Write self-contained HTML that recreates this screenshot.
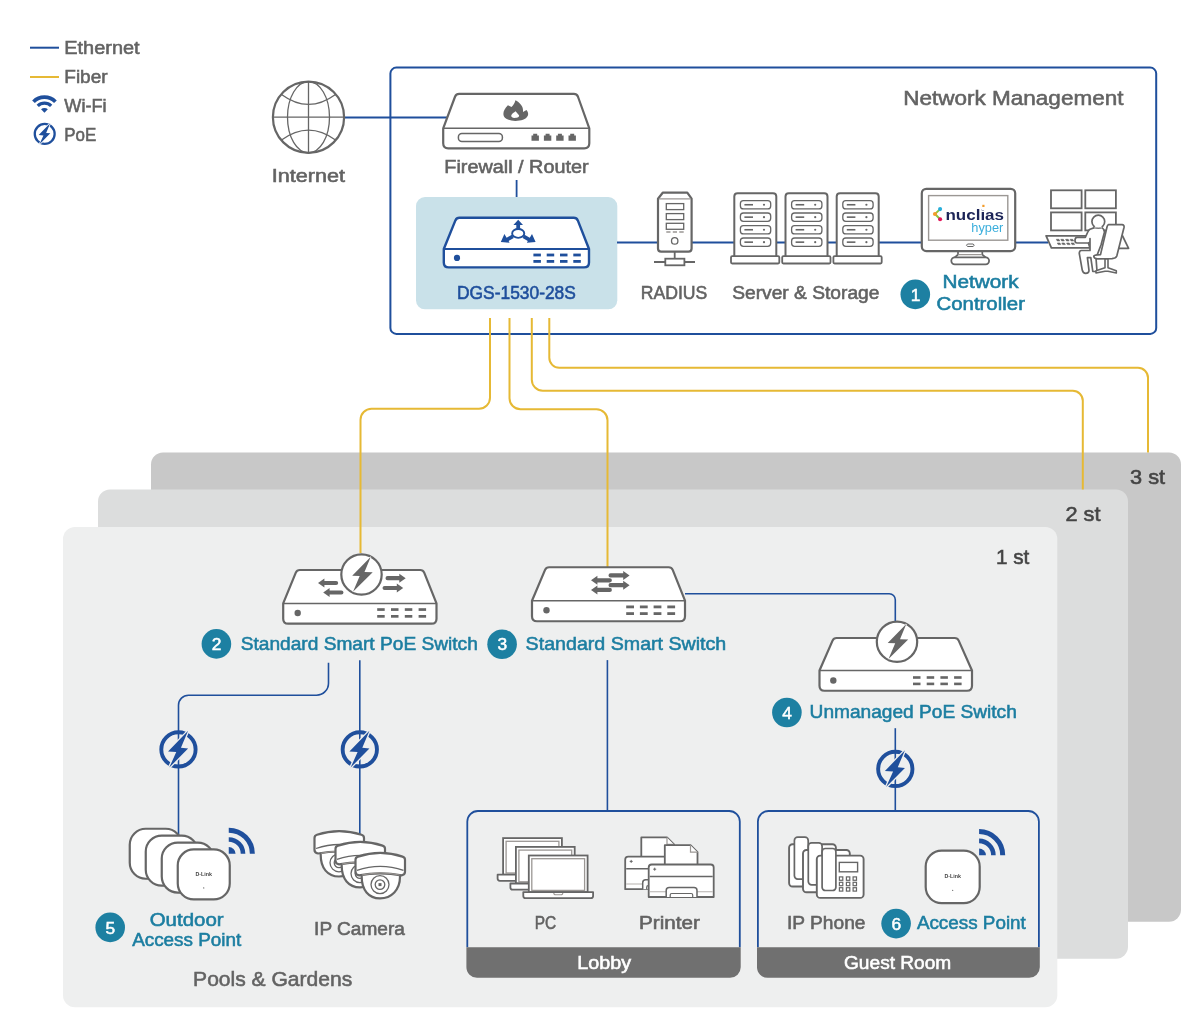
<!DOCTYPE html>
<html><head><meta charset="utf-8"><style>
html,body{margin:0;padding:0;background:#fff;width:1200px;height:1034px;overflow:hidden}
svg{display:block;font-family:"Liberation Sans", sans-serif;will-change:transform}
</style></head><body>
<svg width="1200" height="1034" viewBox="0 0 1200 1034">
<rect x="151" y="452.5" width="1030" height="469.2" rx="12" fill="#c8c8c8"/>
<rect x="98" y="489.5" width="1030" height="469.2" rx="12" fill="#dcdddd"/>
<rect x="63" y="527" width="994.3" height="480.3" rx="12" fill="#eeefef"/>
<rect x="390.4" y="67.6" width="765.8" height="266.3" rx="6" fill="none" stroke="#1f4f9c" stroke-width="2"/>
<rect x="416" y="197.1" width="201.3" height="112.2" rx="9" fill="#c9e1e9"/>
<path d="M344.5,117.5 H447" fill="none" stroke="#1f4f9c" stroke-width="1.8"/>
<path d="M516.6,180 V197" fill="none" stroke="#1f4f9c" stroke-width="1.8"/>
<path d="M617,242.5 H1048" fill="none" stroke="#1f4f9c" stroke-width="1.8"/>
<path d="M490,318 V397.8 a11,11 0 0 1 -11,11 H371.5 a11,11 0 0 0 -11,11 V553" fill="none" stroke="#e6b935" stroke-width="2"/>
<path d="M509.5,318 V398.2 a11,11 0 0 0 11,11 H596.5 a11,11 0 0 1 11,11 V567" fill="none" stroke="#e6b935" stroke-width="2"/>
<path d="M531.8,318 V379.8 a11,11 0 0 0 11,11 H1072.8 a10,10 0 0 1 10,10 V489.5" fill="none" stroke="#e6b935" stroke-width="2"/>
<path d="M549.3,318 V357.8 a10,10 0 0 0 10,10 H1138 a10,10 0 0 1 10,10 V452.5" fill="none" stroke="#e6b935" stroke-width="2"/>
<path d="M685,593.8 H889.3 a6,6 0 0 1 6,6 V621" fill="none" stroke="#1f4f9c" stroke-width="1.6"/>
<path d="M328.5,662.7 V683.2 a12,12 0 0 1 -12,12 H188.5 a10,10 0 0 0 -10,10 V840" fill="none" stroke="#1f4f9c" stroke-width="1.6"/>
<path d="M359.8,660.2 V845" fill="none" stroke="#1f4f9c" stroke-width="1.6"/>
<path d="M607.4,660.1 V811" fill="none" stroke="#1f4f9c" stroke-width="1.6"/>
<path d="M895.3,728.2 V811" fill="none" stroke="#1f4f9c" stroke-width="1.6"/>
<path d="M467.3,947.3 V821.6 a10.6,10.6 0 0 1 10.6,-10.6 H729.2 a10.6,10.6 0 0 1 10.6,10.6 V947.3" fill="none" stroke="#1f4f9c" stroke-width="1.8"/>
<path d="M466.4,947.3 H740.7 V967.2 a10.6,10.6 0 0 1 -10.6,10.6 H477 a10.6,10.6 0 0 1 -10.6,-10.6 Z" fill="#707070"/>
<path d="M757.9,947.3 V821.6 a10.6,10.6 0 0 1 10.6,-10.6 H1028.3 a10.6,10.6 0 0 1 10.6,10.6 V947.3" fill="none" stroke="#1f4f9c" stroke-width="1.8"/>
<path d="M757,947.3 H1039.8 V967.2 a10.6,10.6 0 0 1 -10.6,10.6 H767.6 a10.6,10.6 0 0 1 -10.6,-10.6 Z" fill="#707070"/>
<path d="M30,47.7 H59" fill="none" stroke="#1f4f9c" stroke-width="2"/>
<path d="M30,77 H59" fill="none" stroke="#e6b935" stroke-width="2"/>
<text x="64.3" y="54.2" font-size="17.6" fill="#636363" stroke="#636363" stroke-width="0.55" font-weight="normal" textLength="75.3" lengthAdjust="spacingAndGlyphs" text-anchor="start">Ethernet</text>
<text x="64.3" y="83.0" font-size="17.6" fill="#636363" stroke="#636363" stroke-width="0.55" font-weight="normal" textLength="43.3" lengthAdjust="spacingAndGlyphs" text-anchor="start">Fiber</text>
<text x="64.3" y="111.8" font-size="17.6" fill="#636363" stroke="#636363" stroke-width="0.55" font-weight="normal" textLength="42.3" lengthAdjust="spacingAndGlyphs" text-anchor="start">Wi-Fi</text>
<text x="64.3" y="140.8" font-size="17.6" fill="#636363" stroke="#636363" stroke-width="0.55" font-weight="normal" textLength="32.0" lengthAdjust="spacingAndGlyphs" text-anchor="start">PoE</text>
<text x="271.8" y="182" font-size="17.6" fill="#636363" stroke="#636363" stroke-width="0.55" font-weight="normal" textLength="73.3" lengthAdjust="spacingAndGlyphs" text-anchor="start">Internet</text>
<text x="444.3" y="172.6" font-size="17.6" fill="#636363" stroke="#636363" stroke-width="0.55" font-weight="normal" textLength="144.3" lengthAdjust="spacingAndGlyphs" text-anchor="start">Firewall / Router</text>
<text x="457.0" y="298.8" font-size="17.6" fill="#1f4f9c" stroke="#1f4f9c" stroke-width="0.55" font-weight="normal" textLength="118.9" lengthAdjust="spacingAndGlyphs" text-anchor="start">DGS-1530-28S</text>
<text x="640.7" y="298.7" font-size="17.6" fill="#636363" stroke="#636363" stroke-width="0.55" font-weight="normal" textLength="66.6" lengthAdjust="spacingAndGlyphs" text-anchor="start">RADIUS</text>
<text x="732.2" y="299" font-size="17.6" fill="#636363" stroke="#636363" stroke-width="0.55" font-weight="normal" textLength="147.3" lengthAdjust="spacingAndGlyphs" text-anchor="start">Server &amp; Storage</text>
<text x="942.5" y="288.3" font-size="17.6" fill="#1c7ea1" stroke="#1c7ea1" stroke-width="0.55" font-weight="normal" textLength="76.1" lengthAdjust="spacingAndGlyphs" text-anchor="start">Network</text>
<text x="936.4" y="309.5" font-size="17.6" fill="#1c7ea1" stroke="#1c7ea1" stroke-width="0.55" font-weight="normal" textLength="88.6" lengthAdjust="spacingAndGlyphs" text-anchor="start">Controller</text>
<text x="903.2" y="105" font-size="20.2" fill="#636363" stroke="#636363" stroke-width="0.55" font-weight="normal" textLength="220.3" lengthAdjust="spacingAndGlyphs" text-anchor="start">Network Management</text>
<text x="1130.0" y="484" font-size="20.2" fill="#444444" stroke="#444444" stroke-width="0.55" font-weight="normal" textLength="35.1" lengthAdjust="spacingAndGlyphs" text-anchor="start">3 st</text>
<text x="1065.4" y="521.2" font-size="20.2" fill="#444444" stroke="#444444" stroke-width="0.55" font-weight="normal" textLength="35.1" lengthAdjust="spacingAndGlyphs" text-anchor="start">2 st</text>
<text x="995.9" y="563.9" font-size="20.2" fill="#444444" stroke="#444444" stroke-width="0.55" font-weight="normal" textLength="33.4" lengthAdjust="spacingAndGlyphs" text-anchor="start">1 st</text>
<text x="240.75" y="650" font-size="18.2" fill="#1c7ea1" stroke="#1c7ea1" stroke-width="0.55" font-weight="normal" textLength="237.05" lengthAdjust="spacingAndGlyphs" text-anchor="start">Standard Smart PoE Switch</text>
<text x="525.6" y="649.5" font-size="18.2" fill="#1c7ea1" stroke="#1c7ea1" stroke-width="0.55" font-weight="normal" textLength="200.7" lengthAdjust="spacingAndGlyphs" text-anchor="start">Standard Smart Switch</text>
<text x="809.6" y="718.1" font-size="18.2" fill="#1c7ea1" stroke="#1c7ea1" stroke-width="0.55" font-weight="normal" textLength="207.2" lengthAdjust="spacingAndGlyphs" text-anchor="start">Unmanaged PoE Switch</text>
<text x="149.7" y="925.5" font-size="17.6" fill="#1c7ea1" stroke="#1c7ea1" stroke-width="0.55" font-weight="normal" textLength="73.9" lengthAdjust="spacingAndGlyphs" text-anchor="start">Outdoor</text>
<text x="132.2" y="945.9" font-size="17.6" fill="#1c7ea1" stroke="#1c7ea1" stroke-width="0.55" font-weight="normal" textLength="108.95" lengthAdjust="spacingAndGlyphs" text-anchor="start">Access Point</text>
<text x="314.1" y="935.4" font-size="17.6" fill="#636363" stroke="#636363" stroke-width="0.55" font-weight="normal" textLength="90.8" lengthAdjust="spacingAndGlyphs" text-anchor="start">IP Camera</text>
<text x="193.1" y="985.6" font-size="20.2" fill="#636363" stroke="#636363" stroke-width="0.55" font-weight="normal" textLength="159.1" lengthAdjust="spacingAndGlyphs" text-anchor="start">Pools &amp; Gardens</text>
<text x="534.8" y="929.1" font-size="17.6" fill="#636363" stroke="#636363" stroke-width="0.55" font-weight="normal" textLength="21.5" lengthAdjust="spacingAndGlyphs" text-anchor="start">PC</text>
<text x="639.0" y="928.9" font-size="17.6" fill="#636363" stroke="#636363" stroke-width="0.55" font-weight="normal" textLength="60.9" lengthAdjust="spacingAndGlyphs" text-anchor="start">Printer</text>
<text x="787.0" y="928.6" font-size="17.6" fill="#636363" stroke="#636363" stroke-width="0.55" font-weight="normal" textLength="78.5" lengthAdjust="spacingAndGlyphs" text-anchor="start">IP Phone</text>
<text x="916.9" y="928.9" font-size="17.6" fill="#1c7ea1" stroke="#1c7ea1" stroke-width="0.55" font-weight="normal" textLength="108.9" lengthAdjust="spacingAndGlyphs" text-anchor="start">Access Point</text>
<text x="577.3" y="969.3" font-size="17.6" fill="#ffffff" stroke="#ffffff" stroke-width="0.55" font-weight="normal" textLength="53.7" lengthAdjust="spacingAndGlyphs" text-anchor="start">Lobby</text>
<text x="844.0" y="969.3" font-size="17.6" fill="#ffffff" stroke="#ffffff" stroke-width="0.55" font-weight="normal" textLength="107.3" lengthAdjust="spacingAndGlyphs" text-anchor="start">Guest Room</text>
<circle cx="915.3" cy="294.4" r="14.8" fill="#1d80a2"/>
<text x="915.5" y="300.5" font-size="17.4" fill="#fff" stroke="#fff" stroke-width="0.5" text-anchor="middle">1</text>
<circle cx="216.4" cy="643.9" r="14.8" fill="#1d80a2"/>
<text x="216.6" y="650.0" font-size="17.4" fill="#fff" stroke="#fff" stroke-width="0.5" text-anchor="middle">2</text>
<circle cx="502.1" cy="644.2" r="14.8" fill="#1d80a2"/>
<text x="502.3" y="650.3000000000001" font-size="17.4" fill="#fff" stroke="#fff" stroke-width="0.5" text-anchor="middle">3</text>
<circle cx="786.9" cy="712.5" r="14.8" fill="#1d80a2"/>
<text x="787.1" y="718.6" font-size="17.4" fill="#fff" stroke="#fff" stroke-width="0.5" text-anchor="middle">4</text>
<circle cx="110.2" cy="927.4" r="14.8" fill="#1d80a2"/>
<text x="110.4" y="933.5" font-size="17.4" fill="#fff" stroke="#fff" stroke-width="0.5" text-anchor="middle">5</text>
<circle cx="896.1" cy="923.6" r="14.8" fill="#1d80a2"/>
<text x="896.3000000000001" y="929.7" font-size="17.4" fill="#fff" stroke="#fff" stroke-width="0.5" text-anchor="middle">6</text>
<g fill="none" stroke="#666666"><circle cx="308.5" cy="117.2" r="35.6" stroke-width="2.2"/><ellipse cx="308.5" cy="117.2" rx="21" ry="35.6" stroke-width="1.3"/><path d="M308.5,81.6 V152.8 M272.9,117.2 H344.1" stroke-width="1.3"/><path d="M281.5,94.4 Q308.5,114.2 335.5,94.4" stroke-width="1.3"/><path d="M281.5,140.0 Q308.5,120.2 335.5,140.0" stroke-width="1.3"/></g>
<path d="M443.2,128.3 L455.1,96.5 Q456.3,93.9 459.1,93.9 L573.9000000000001,93.9 Q576.7,93.9 577.9000000000001,96.5 L589.3,128.3 L589.3,143.3 Q589.3,148.3 584.3,148.3 L448.2,148.3 Q443.2,148.3 443.2,143.3 Z" fill="#fff" stroke="#666666" stroke-width="2.2" stroke-linejoin="round"/>
<path d="M443.2,128.3 H589.3" stroke="#666666" stroke-width="1.5"/>
<rect x="458.4" y="133.4" width="44" height="8" rx="3.5" fill="none" stroke="#666666" stroke-width="1.5"/>
<path d="M531.5,140.8 V135.6 H533.2 V133.8 H537.2 V135.6 H538.9000000000001 V140.8 Z" fill="#666666"/>
<path d="M543.9,140.8 V135.6 H545.6 V133.8 H549.6 V135.6 H551.3000000000001 V140.8 Z" fill="#666666"/>
<path d="M556.1999999999999,140.8 V135.6 H557.9 V133.8 H561.9 V135.6 H563.6 V140.8 Z" fill="#666666"/>
<path d="M568.5,140.8 V135.6 H570.2 V133.8 H574.2 V135.6 H575.9000000000001 V140.8 Z" fill="#666666"/>
<path d="M515.4,100.2 C519.5,102.2 523,106 523,110 L523,111.9 L526.5,110 C528,112 528.6,114 527.8,115.8 C526,119.6 521,120.9 515.4,120.9 C510,120.9 505.5,119.2 504,116.5 C502.5,113.5 503.8,109.5 507.9,105.3 L511.5,107.1 C513.5,105 515,102.5 515.4,100.2 Z" fill="#666666"/>
<path d="M515.55,111.3 L519,115.3 C519.6,117 517.5,117.9 514.8,117.9 C512,117.9 510.8,116.6 511.3,115.2 C512,113.6 514,112.5 515.55,111.3 Z" fill="#fff"/>
<path d="M443.8,249 L455.40000000000003,220.4 Q456.6,217.8 459.40000000000003,217.8 L573.8000000000001,217.8 Q576.6,217.8 577.8000000000001,220.4 L589,249 L589,262.4 Q589,267.4 584,267.4 L448.8,267.4 Q443.8,267.4 443.8,262.4 Z" fill="#fff" stroke="#1f4f9c" stroke-width="2.4" stroke-linejoin="round"/>
<path d="M443.8,249 H589" stroke="#1f4f9c" stroke-width="2.2"/>
<circle cx="457" cy="257.9" r="3.1" fill="#1f4f9c"/>
<rect x="533.4" y="253.6" width="7.5" height="2.8" fill="#1f4f9c"/>
<rect x="533.4" y="260" width="7.5" height="2.8" fill="#1f4f9c"/>
<rect x="546.6999999999999" y="253.6" width="7.5" height="2.8" fill="#1f4f9c"/>
<rect x="546.6999999999999" y="260" width="7.5" height="2.8" fill="#1f4f9c"/>
<rect x="560.0" y="253.6" width="7.5" height="2.8" fill="#1f4f9c"/>
<rect x="560.0" y="260" width="7.5" height="2.8" fill="#1f4f9c"/>
<rect x="573.3" y="253.6" width="7.5" height="2.8" fill="#1f4f9c"/>
<rect x="573.3" y="260" width="7.5" height="2.8" fill="#1f4f9c"/>
<ellipse cx="518.2" cy="233.4" rx="6.05" ry="4.45" fill="none" stroke="#1f4f9c" stroke-width="1.9"/>
<path d="M518.2,224.5 V229 M512.8,236.3 L505.5,240.6 M523.6,236.3 L530.9,240.6" stroke="#1f4f9c" stroke-width="3.8"/>
<path d="M518.2,219.85 L523,224.9 H513.4 Z M500.8,241.9 L504.4,234 L509.6,242.7 Z M535.6,241.9 L532,234 L526.8,242.7 Z" fill="#1f4f9c"/>
<path d="M662.7,192.7 H687.3 L691.6,198.7 V248.5 Q691.6,251.6 688.5,251.6 H661.1 Q658,251.6 658,248.5 V198.7 Z" fill="#fff" stroke="#666666" stroke-width="2.2" stroke-linejoin="round"/>
<path d="M658.8,198.9 H690.8" stroke="#9a9694" stroke-width="1.3"/>
<rect x="666.3" y="203.6" width="17.4" height="6" fill="none" stroke="#666666" stroke-width="1.3"/>
<rect x="666.3" y="213.6" width="17.4" height="6" fill="none" stroke="#666666" stroke-width="1.3"/>
<rect x="666.3" y="223.3" width="17.4" height="6" fill="none" stroke="#666666" stroke-width="1.3"/>
<path d="M666.3,232 H670.5 M672.8,232 H677 M679.3,232 H683.7" stroke="#9a9694" stroke-width="1.3"/>
<circle cx="674.7" cy="240.9" r="3.2" fill="none" stroke="#666666" stroke-width="1.3"/>
<path d="M674.7,251.6 V258.7 M654,262 H665.3 M684.4,262 H695" stroke="#666666" stroke-width="1.8"/>
<rect x="665.3" y="258.7" width="19.1" height="6.6" fill="#fff" stroke="#666666" stroke-width="1.8"/>
<path d="M734.3,256.2 V196.5 Q734.3,193.2 737.5999999999999,193.2 H773.0 Q776.3,193.2 776.3,196.5 V256.2" fill="#fff" stroke="#666666" stroke-width="2"/>
<rect x="731.0" y="256.2" width="48.3" height="7.3" rx="1.2" fill="#fff" stroke="#666666" stroke-width="1.8"/>
<rect x="740.4" y="200.6" width="30.3" height="8.3" rx="3" fill="#fff" stroke="#666666" stroke-width="1.3"/>
<path d="M744.4,204.75 H753.0" stroke="#666666" stroke-width="1.6"/>
<circle cx="764.0" cy="204.75" r="1.1" fill="#666666"/>
<rect x="740.4" y="213" width="30.3" height="8.3" rx="3" fill="#fff" stroke="#666666" stroke-width="1.3"/>
<path d="M744.4,217.15 H753.0" stroke="#666666" stroke-width="1.6"/>
<circle cx="764.0" cy="217.15" r="1.1" fill="#666666"/>
<rect x="740.4" y="225.6" width="30.3" height="8.3" rx="3" fill="#fff" stroke="#666666" stroke-width="1.3"/>
<path d="M744.4,229.75 H753.0" stroke="#666666" stroke-width="1.6"/>
<circle cx="764.0" cy="229.75" r="1.1" fill="#666666"/>
<rect x="740.4" y="238" width="30.3" height="8.3" rx="3" fill="#fff" stroke="#666666" stroke-width="1.3"/>
<path d="M744.4,242.15 H753.0" stroke="#666666" stroke-width="1.6"/>
<circle cx="764.0" cy="242.15" r="1.1" fill="#666666"/>
<path d="M785.5,256.2 V196.5 Q785.5,193.2 788.8,193.2 H824.2 Q827.5,193.2 827.5,196.5 V256.2" fill="#fff" stroke="#666666" stroke-width="2"/>
<rect x="782.2" y="256.2" width="48.3" height="7.3" rx="1.2" fill="#fff" stroke="#666666" stroke-width="1.8"/>
<rect x="791.6" y="200.6" width="30.3" height="8.3" rx="3" fill="#fff" stroke="#666666" stroke-width="1.3"/>
<path d="M795.6,204.75 H804.2" stroke="#666666" stroke-width="1.6"/>
<circle cx="815.2" cy="204.75" r="1.1" fill="#666666"/>
<rect x="791.6" y="213" width="30.3" height="8.3" rx="3" fill="#fff" stroke="#666666" stroke-width="1.3"/>
<path d="M795.6,217.15 H804.2" stroke="#666666" stroke-width="1.6"/>
<circle cx="815.2" cy="217.15" r="1.1" fill="#666666"/>
<rect x="791.6" y="225.6" width="30.3" height="8.3" rx="3" fill="#fff" stroke="#666666" stroke-width="1.3"/>
<path d="M795.6,229.75 H804.2" stroke="#666666" stroke-width="1.6"/>
<circle cx="815.2" cy="229.75" r="1.1" fill="#666666"/>
<rect x="791.6" y="238" width="30.3" height="8.3" rx="3" fill="#fff" stroke="#666666" stroke-width="1.3"/>
<path d="M795.6,242.15 H804.2" stroke="#666666" stroke-width="1.6"/>
<circle cx="815.2" cy="242.15" r="1.1" fill="#666666"/>
<path d="M836.6999999999999,256.2 V196.5 Q836.6999999999999,193.2 839.9999999999999,193.2 H875.4 Q878.6999999999999,193.2 878.6999999999999,196.5 V256.2" fill="#fff" stroke="#666666" stroke-width="2"/>
<rect x="833.4" y="256.2" width="48.3" height="7.3" rx="1.2" fill="#fff" stroke="#666666" stroke-width="1.8"/>
<rect x="842.8" y="200.6" width="30.3" height="8.3" rx="3" fill="#fff" stroke="#666666" stroke-width="1.3"/>
<path d="M846.8,204.75 H855.4" stroke="#666666" stroke-width="1.6"/>
<circle cx="866.4" cy="204.75" r="1.1" fill="#666666"/>
<rect x="842.8" y="213" width="30.3" height="8.3" rx="3" fill="#fff" stroke="#666666" stroke-width="1.3"/>
<path d="M846.8,217.15 H855.4" stroke="#666666" stroke-width="1.6"/>
<circle cx="866.4" cy="217.15" r="1.1" fill="#666666"/>
<rect x="842.8" y="225.6" width="30.3" height="8.3" rx="3" fill="#fff" stroke="#666666" stroke-width="1.3"/>
<path d="M846.8,229.75 H855.4" stroke="#666666" stroke-width="1.6"/>
<circle cx="866.4" cy="229.75" r="1.1" fill="#666666"/>
<rect x="842.8" y="238" width="30.3" height="8.3" rx="3" fill="#fff" stroke="#666666" stroke-width="1.3"/>
<path d="M846.8,242.15 H855.4" stroke="#666666" stroke-width="1.6"/>
<circle cx="866.4" cy="242.15" r="1.1" fill="#666666"/>
<path d="M952.5,259.5 L958,254.5 V251 H982.3 V254.5 L988,259.5" fill="#fff" stroke="#666666" stroke-width="1.7" stroke-linejoin="round"/>
<path d="M958.5,254.6 H981.8 M955,257.7 H985.5" stroke="#9b9794" stroke-width="1.1"/>
<rect x="951.3" y="257.4" width="37.8" height="6.9" rx="3.45" fill="#fff" stroke="#666666" stroke-width="1.8"/>
<rect x="921.8" y="188.8" width="93.4" height="62.3" rx="4.5" fill="#fff" stroke="#666666" stroke-width="2.2"/>
<rect x="928.6" y="195.6" width="79.2" height="44.6" fill="#fff" stroke="#9b9794" stroke-width="1.4"/>
<path d="M966.5,245.2 L967.5,244 H973.2 L974.2,245.2 L973.2,246.5 H967.5 Z" fill="none" stroke="#666666" stroke-width="1"/>
<path d="M940.1,209.1 L935,214 L940.1,219.2" fill="none" stroke="#8dc540" stroke-width="2"/>
<circle cx="940.1" cy="209.1" r="2.05" fill="#27aedb"/><circle cx="935" cy="214" r="2.1" fill="#f39c2b"/><circle cx="940.1" cy="219.2" r="2.05" fill="#e3175a"/>
<text x="945.5" y="219.65" font-size="18" font-weight="bold" fill="#1c2457" textLength="58.5" lengthAdjust="spacingAndGlyphs" transform="translate(0,219.65) scale(1,0.78) translate(0,-219.65)">nuclias</text>
<rect x="982.3" y="204.8" width="2.2" height="2.2" fill="#f39c2b"/>
<rect x="981.6" y="208" width="3.6" height="2.2" fill="#fff"/>
<text x="971.3" y="232" font-size="12.5" fill="#3aaedc" textLength="32" lengthAdjust="spacingAndGlyphs">hyper</text>
<rect x="1051" y="190.3" width="30.6" height="18" fill="#fff" stroke="#666666" stroke-width="1.8"/>
<rect x="1085.3" y="190.3" width="30.6" height="18" fill="#fff" stroke="#666666" stroke-width="1.8"/>
<rect x="1051" y="212.4" width="30.6" height="18" fill="#fff" stroke="#666666" stroke-width="1.8"/>
<rect x="1085.3" y="212.4" width="30.6" height="18" fill="#fff" stroke="#666666" stroke-width="1.8"/>
<path d="M1122.3,235.5 L1128.6,248.3 H1119" fill="none" stroke="#666666" stroke-width="1.7" stroke-linejoin="round"/>
<path d="M1046.1,235.9 H1086.3 L1090,247.9 H1051.4 Z" fill="#fff" stroke="#666666" stroke-width="1.8" stroke-linejoin="round"/>
<path d="M1056.3,239.3 h2.6 l0.9,1.6 h-2.6 Z M1060.8,239.3 h2.6 l0.9,1.6 h-2.6 Z M1065.6,239.3 h2.6 l0.9,1.6 h-2.6 Z M1070.1,239.3 h2.6 l0.9,1.6 h-2.6 Z M1057.3,243 h2.6 l0.9,1.6 h-2.6 Z M1061.8,243 h2.6 l0.9,1.6 h-2.6 Z M1066.6,243 h2.6 l0.9,1.6 h-2.6 Z M1071.1,243 h2.6 l0.9,1.6 h-2.6 Z " fill="#666666" stroke="#666666" stroke-width="0.6"/>
<path d="M1094.5,227.6 L1090,229.2 Q1088.5,230 1087.8,232 L1085.3,237.4 H1076.8 Q1075,237.6 1075,240.6 Q1075,243 1077,243 H1087.8 Q1089.5,243 1090,241.5 L1090,238.5 V250.5 H1081.3 Q1079.2,250.8 1079.3,253.5 L1082.3,270.3 Q1083,273.3 1085.6,273.3 Q1089,273.3 1089,270.5 L1087.4,257.7 H1090.8 L1092.8,271.5 H1097 L1096,258 L1101,245 L1104.5,232 Q1104,229 1102,227.6 Z" fill="#fff" stroke="#666666" stroke-width="1.7" stroke-linejoin="round"/>
<circle cx="1098.3" cy="221.6" r="6.4" fill="#fff" stroke="#666666" stroke-width="1.7"/>
<path d="M1094.2,227.4 L1102.3,227.4 L1101,226 H1095.5 Z" fill="#fff"/>
<path d="M1105,258.6 V267.8 L1096,270.8 V273 L1105,271.3 H1108 L1116.3,273 V270.8 L1108,267.8 V258.6 Z" fill="#fff" stroke="#666666" stroke-width="1.6" stroke-linejoin="round"/>
<path d="M1108.5,224.6 H1122 Q1124.5,224.8 1124,227.5 L1116.8,256 Q1116,258.3 1112,258.6 L1097.5,258.8 Q1093.8,258.6 1093.8,256.3 Q1093.8,255 1097.5,254.8 L1100.5,254.6 L1107,227 Q1107.5,224.8 1108.5,224.6 Z" fill="#fff" stroke="#666666" stroke-width="1.7" stroke-linejoin="round"/>
<path d="M283.2,603.4 L295.8,572.6 Q297,570 299.8,570 L420.2,570 Q423,570 424.2,572.6 L436.5,603.4 L436.5,618.7 Q436.5,623.7 431.5,623.7 L288.2,623.7 Q283.2,623.7 283.2,618.7 Z" fill="#fff" stroke="#666666" stroke-width="2.2" stroke-linejoin="round"/>
<path d="M283.2,603.4 H436.5" stroke="#666666" stroke-width="1.5"/>
<circle cx="297.7" cy="613" r="3.2" fill="#666666"/>
<rect x="377.2" y="608.2" width="7.5" height="2.7" fill="#666666"/>
<rect x="377.2" y="615" width="7.5" height="2.7" fill="#666666"/>
<rect x="391.0" y="608.2" width="7.5" height="2.7" fill="#666666"/>
<rect x="391.0" y="615" width="7.5" height="2.7" fill="#666666"/>
<rect x="404.8" y="608.2" width="7.5" height="2.7" fill="#666666"/>
<rect x="404.8" y="615" width="7.5" height="2.7" fill="#666666"/>
<rect x="418.6" y="608.2" width="7.5" height="2.7" fill="#666666"/>
<rect x="418.6" y="615" width="7.5" height="2.7" fill="#666666"/>
<path d="M532,600.7 L545.05,569.85 Q546.25,567.25 549.05,567.25 L668.7,567.25 Q671.5,567.25 672.7,569.85 L685,600.7 L685,616.25 Q685,621.25 680,621.25 L537,621.25 Q532,621.25 532,616.25 Z" fill="#fff" stroke="#666666" stroke-width="2.2" stroke-linejoin="round"/>
<path d="M532,600.7 H685" stroke="#666666" stroke-width="1.5"/>
<circle cx="546.5" cy="610.3" r="3.2" fill="#666666"/>
<rect x="626.2" y="605.5" width="7.8" height="2.8" fill="#666666"/>
<rect x="626.2" y="612.2" width="7.8" height="2.8" fill="#666666"/>
<rect x="639.9000000000001" y="605.5" width="7.8" height="2.8" fill="#666666"/>
<rect x="639.9000000000001" y="612.2" width="7.8" height="2.8" fill="#666666"/>
<rect x="653.6" y="605.5" width="7.8" height="2.8" fill="#666666"/>
<rect x="653.6" y="612.2" width="7.8" height="2.8" fill="#666666"/>
<rect x="667.3000000000001" y="605.5" width="7.8" height="2.8" fill="#666666"/>
<rect x="667.3000000000001" y="612.2" width="7.8" height="2.8" fill="#666666"/>
<path d="M819.5,670.5 L832.55,640.6 Q833.75,638 836.55,638 L954.7,638 Q957.5,638 958.7,640.6 L972,670.5 L972,685.75 Q972,690.75 967,690.75 L824.5,690.75 Q819.5,690.75 819.5,685.75 Z" fill="#fff" stroke="#666666" stroke-width="2.2" stroke-linejoin="round"/>
<path d="M819.5,670.5 H972" stroke="#666666" stroke-width="1.5"/>
<circle cx="833.3" cy="680.5" r="3.2" fill="#666666"/>
<rect x="913.0" y="676.2" width="7.5" height="2.6" fill="#666666"/>
<rect x="913.0" y="682.6" width="7.5" height="2.6" fill="#666666"/>
<rect x="926.7" y="676.2" width="7.5" height="2.6" fill="#666666"/>
<rect x="926.7" y="682.6" width="7.5" height="2.6" fill="#666666"/>
<rect x="940.4" y="676.2" width="7.5" height="2.6" fill="#666666"/>
<rect x="940.4" y="682.6" width="7.5" height="2.6" fill="#666666"/>
<rect x="954.1" y="676.2" width="7.5" height="2.6" fill="#666666"/>
<rect x="954.1" y="682.6" width="7.5" height="2.6" fill="#666666"/>
<circle cx="361.5" cy="574.5" r="20.2" fill="#fff" stroke="#666666" stroke-width="2.2"/>
<path d="M370.80,556.80 L364.50,572.00 L372.70,572.25 L353.00,591.70 L359.70,576.00 L352.20,575.70 Z" fill="#666666" stroke="#fff" stroke-width="1.2" paint-order="stroke"/>
<circle cx="897" cy="641.75" r="20.2" fill="#fff" stroke="#666666" stroke-width="2.2"/>
<path d="M906.30,624.05 L900.00,639.25 L908.20,639.50 L888.50,658.95 L895.20,643.25 L887.70,642.95 Z" fill="#666666" stroke="#fff" stroke-width="1.2" paint-order="stroke"/>
<path d="M336.09999999999997,580.9 H324.4 V578.5 L318,583 L324.4,587.5 V585.1 H336.09999999999997 A2.1,2.1 0 0 0 336.09999999999997,580.9 Z" fill="#666666"/>
<path d="M341.4,590.4 H329.59999999999997 V588.0 L323.2,592.5 L329.59999999999997,597.0 V594.6 H341.4 A2.1,2.1 0 0 0 341.4,590.4 Z" fill="#666666"/>
<path d="M387.6,576.1 H399.3 V573.7 L405.7,578.2 L399.3,582.7 V580.3000000000001 H387.6 A2.1,2.1 0 0 1 387.6,576.1 Z" fill="#666666"/>
<path d="M384.6,585.9 H396.8 V583.5 L403.2,588 L396.8,592.5 V590.1 H384.6 A2.1,2.1 0 0 1 384.6,585.9 Z" fill="#666666"/>
<path d="M610.6,573.3 H623.2 V570.9 L629.6,575.4 L623.2,579.9 V577.5 H610.6 A2.1,2.1 0 0 1 610.6,573.3 Z" fill="#666666"/>
<path d="M609.8,578.1999999999999 H597.4 V575.8 L591,580.3 L597.4,584.8 V582.4 H609.8 A2.1,2.1 0 0 0 609.8,578.1999999999999 Z" fill="#666666"/>
<path d="M610.6,583.1 H623.2 V580.7 L629.6,585.2 L623.2,589.7 V587.3000000000001 H610.6 A2.1,2.1 0 0 1 610.6,583.1 Z" fill="#666666"/>
<path d="M609.8,587.8 H597.4 V585.4 L591,589.9 L597.4,594.4 V592.0 H609.8 A2.1,2.1 0 0 0 609.8,587.8 Z" fill="#666666"/>
<circle cx="178.45" cy="749.4" r="17.15" fill="none" stroke="#1f4f9c" stroke-width="3.9"/>
<path d="M188.10,730.80 L180.95,747.70 L188.10,748.45 L169.25,767.60 L176.25,752.10 L168.05,751.50 Z" fill="#1f4f9c" stroke="#eeefef" stroke-width="2.6" stroke-linejoin="miter" paint-order="stroke"/>
<circle cx="359.8" cy="749.4" r="17.15" fill="none" stroke="#1f4f9c" stroke-width="3.9"/>
<path d="M369.45,730.80 L362.30,747.70 L369.45,748.45 L350.60,767.60 L357.60,752.10 L349.40,751.50 Z" fill="#1f4f9c" stroke="#eeefef" stroke-width="2.6" stroke-linejoin="miter" paint-order="stroke"/>
<circle cx="895.3" cy="768.9" r="17.15" fill="none" stroke="#1f4f9c" stroke-width="3.9"/>
<path d="M904.95,750.30 L897.80,767.20 L904.95,767.95 L886.10,787.10 L893.10,771.60 L884.90,771.00 Z" fill="#1f4f9c" stroke="#eeefef" stroke-width="2.6" stroke-linejoin="miter" paint-order="stroke"/>
<circle cx="44.7" cy="133.9" r="9.947" fill="none" stroke="#1f4f9c" stroke-width="2.262"/>
<path d="M50.30,123.11 L46.15,132.91 L50.30,133.35 L39.36,144.46 L43.42,135.47 L38.67,135.12 Z" fill="#1f4f9c" stroke="#fff" stroke-width="1.508" stroke-linejoin="miter" paint-order="stroke"/>
<path d="M979.1,855.2 V848.4000000000001 A6.8,6.8 0 0 1 985.9,855.2 Z" fill="#1f4f9c"/>
<path d="M979.1,840.9000000000001 A14.3,14.3 0 0 1 993.4,855.2" fill="none" stroke="#1f4f9c" stroke-width="4.6"/>
<path d="M979.1,831.6 A23.6,23.6 0 0 1 1002.7,855.2" fill="none" stroke="#1f4f9c" stroke-width="5.0"/>
<path d="M228.75,853.75 V846.95 A6.8,6.8 0 0 1 235.55,853.75 Z" fill="#1f4f9c"/>
<path d="M228.75,839.45 A14.3,14.3 0 0 1 243.05,853.75" fill="none" stroke="#1f4f9c" stroke-width="4.6"/>
<path d="M228.75,830.15 A23.6,23.6 0 0 1 252.35,853.75" fill="none" stroke="#1f4f9c" stroke-width="5.0"/>
<g transform="translate(44.45,112.7) rotate(-45)">
<path d="M0,0 V-4.8 A4.8,4.8 0 0 1 4.8,0 Z" fill="#1f4f9c"/>
<path d="M0,-9.5 A9.5,9.5 0 0 1 9.5,0" fill="none" stroke="#1f4f9c" stroke-width="3.2"/>
<path d="M0,-15.5 A15.5,15.5 0 0 1 15.5,0" fill="none" stroke="#1f4f9c" stroke-width="3.8"/>
</g>
<rect x="129.75" y="828.75" width="52" height="50" rx="16" fill="#fff" stroke="#666666" stroke-width="2.2"/>
<rect x="145.75" y="835.65" width="52" height="50" rx="16" fill="#fff" stroke="#666666" stroke-width="2.2"/>
<rect x="161.75" y="842.55" width="52" height="50" rx="16" fill="#fff" stroke="#666666" stroke-width="2.2"/>
<rect x="177.75" y="849.45" width="52" height="50" rx="16" fill="#fff" stroke="#666666" stroke-width="2.2"/>
<text x="203.75" y="875.95" font-size="5.3" font-weight="bold" fill="#444" text-anchor="middle">D-Link</text>
<circle cx="203.75" cy="887.95" r="0.6" fill="#555"/>
<rect x="925.7" y="850.6" width="54" height="52.5" rx="16" fill="#fff" stroke="#666666" stroke-width="2.2"/>
<text x="952.7" y="878.35" font-size="5.3" font-weight="bold" fill="#444" text-anchor="middle">D-Link</text>
<circle cx="952.7" cy="890.35" r="0.6" fill="#555"/>
<path d="M320.7,851 V855 C320.7,868 327.5,876.5 339.0,876.5 C350.5,876.5 359.0,868 359.0,855 V851 Z" fill="#fff" stroke="#666666" stroke-width="2.2" stroke-linejoin="round"/>
<path d="M314.5,838 Q314.5,835.6 317.0,834.8 Q339.25,827.4 361.5,834.8 Q364.0,835.6 364.0,838 V850 Q364.0,853 360.5,853.5 Q339.25,849.5 318.0,853.5 Q314.5,853 314.5,850 Z" fill="#fff" stroke="#666666" stroke-width="2.2" stroke-linejoin="round"/>
<path d="M316.0,848.5 Q339.25,840.5 362.5,848.5" fill="none" stroke="#666666" stroke-width="1.3"/>
<path d="M321.0,853.2 Q339.25,849.3 358.7,853.2" fill="none" stroke="#9b9794" stroke-width="1.1"/>
<circle cx="339.0" cy="862.8" r="9" fill="none" stroke="#666666" stroke-width="1.3"/>
<circle cx="339.0" cy="862.8" r="4.8" fill="none" stroke="#666666" stroke-width="1.3"/>
<path d="M341.7,861.8 V865.8 C341.7,878.8 348.5,887.3 360.0,887.3 C371.5,887.3 380.0,878.8 380.0,865.8 V861.8 Z" fill="#fff" stroke="#666666" stroke-width="2.2" stroke-linejoin="round"/>
<path d="M335.5,848.8 Q335.5,846.4 338.0,845.5999999999999 Q360.25,838.1999999999999 382.5,845.5999999999999 Q385.0,846.4 385.0,848.8 V860.8 Q385.0,863.8 381.5,864.3 Q360.25,860.3 339.0,864.3 Q335.5,863.8 335.5,860.8 Z" fill="#fff" stroke="#666666" stroke-width="2.2" stroke-linejoin="round"/>
<path d="M337.0,859.3 Q360.25,851.3 383.5,859.3" fill="none" stroke="#666666" stroke-width="1.3"/>
<path d="M342.0,864.0 Q360.25,860.0999999999999 379.7,864.0" fill="none" stroke="#9b9794" stroke-width="1.1"/>
<circle cx="360.0" cy="873.5999999999999" r="9" fill="none" stroke="#666666" stroke-width="1.3"/>
<circle cx="360.0" cy="873.5999999999999" r="4.8" fill="none" stroke="#666666" stroke-width="1.3"/>
<path d="M361.7,872.8 V876.8 C361.7,889.8 368.5,898.3 380.0,898.3 C391.5,898.3 400.0,889.8 400.0,876.8 V872.8 Z" fill="#fff" stroke="#666666" stroke-width="2.2" stroke-linejoin="round"/>
<path d="M355.5,859.8 Q355.5,857.4 358.0,856.5999999999999 Q380.25,849.1999999999999 402.5,856.5999999999999 Q405.0,857.4 405.0,859.8 V871.8 Q405.0,874.8 401.5,875.3 Q380.25,871.3 359.0,875.3 Q355.5,874.8 355.5,871.8 Z" fill="#fff" stroke="#666666" stroke-width="2.2" stroke-linejoin="round"/>
<path d="M357.0,870.3 Q380.25,862.3 403.5,870.3" fill="none" stroke="#666666" stroke-width="1.3"/>
<path d="M362.0,875.0 Q380.25,871.0999999999999 399.7,875.0" fill="none" stroke="#9b9794" stroke-width="1.1"/>
<circle cx="380.0" cy="884.5999999999999" r="9" fill="none" stroke="#666666" stroke-width="1.3"/>
<circle cx="380.0" cy="884.5999999999999" r="4.8" fill="none" stroke="#666666" stroke-width="1.3"/>
<rect x="378.5" y="883.0999999999999" width="3" height="3" fill="#666666"/>
<rect x="503.1" y="838.1" width="58.8" height="36.6" fill="#fff" stroke="#666666" stroke-width="1.8"/>
<rect x="506.1" y="841.3000000000001" width="52.8" height="31.7" fill="#fff" stroke="#9b9794" stroke-width="1.3"/>
<path d="M497.6,874.7 H567.4 V878.6 Q567.4,880.8000000000001 565.1,880.8000000000001 H499.90000000000003 Q497.6,880.8000000000001 497.6,878.6 Z" fill="#fff" stroke="#666666" stroke-width="1.8" stroke-linejoin="round"/>
<path d="M528.1,875.5 Q528.1,877.4 530.1,877.4 H535.1 Q537.1,877.4 537.1,875.5" fill="none" stroke="#9b9794" stroke-width="1.1"/>
<rect x="515.9" y="846.9" width="58.8" height="36.6" fill="#fff" stroke="#666666" stroke-width="1.8"/>
<rect x="518.9" y="850.1" width="52.8" height="31.7" fill="#fff" stroke="#9b9794" stroke-width="1.3"/>
<path d="M510.4,883.5 H580.1999999999999 V887.4 Q580.1999999999999,889.6 577.9,889.6 H512.6999999999999 Q510.4,889.6 510.4,887.4 Z" fill="#fff" stroke="#666666" stroke-width="1.8" stroke-linejoin="round"/>
<path d="M540.9,884.3 Q540.9,886.1999999999999 542.9,886.1999999999999 H547.9 Q549.9,886.1999999999999 549.9,884.3" fill="none" stroke="#9b9794" stroke-width="1.1"/>
<rect x="528.8" y="855.5" width="58.8" height="36.6" fill="#fff" stroke="#666666" stroke-width="1.8"/>
<rect x="531.8" y="858.7" width="52.8" height="31.7" fill="#fff" stroke="#9b9794" stroke-width="1.3"/>
<path d="M523.3,892.1 H593.0999999999999 V896.0 Q593.0999999999999,898.2 590.8,898.2 H525.5999999999999 Q523.3,898.2 523.3,896.0 Z" fill="#fff" stroke="#666666" stroke-width="1.8" stroke-linejoin="round"/>
<path d="M553.8,892.9 Q553.8,894.8 555.8,894.8 H560.8 Q562.8,894.8 562.8,892.9" fill="none" stroke="#9b9794" stroke-width="1.1"/>
<path d="M641.3000000000001,857.7 V837.4000000000001 H667.0000000000001 L674.0000000000001,844.4000000000001 V857.7" fill="#fff" stroke="#666666" stroke-width="1.8" stroke-linejoin="round"/>
<path d="M667.0000000000001,837.4000000000001 V844.4000000000001 H674.0000000000001" fill="#fff" stroke="#9b9794" stroke-width="1.2"/>
<path d="M625.2,889.2 V859.7 Q625.2,856.7 628.2,856.7 H687.2 Q690.2,856.7 690.2,859.7 V889.2 Z" fill="#fff" stroke="#666666" stroke-width="1.8" stroke-linejoin="round"/>
<path d="M626.2,868.7 H689.2" stroke="#666666" stroke-width="1.5"/>
<path d="M626.2,884.0 H689.2" stroke="#b5b1ae" stroke-width="1.1"/>
<path d="M642.7,889.2 V882.7 Q642.7,879.7 645.7,879.7 H670.5 Q673.5,879.7 673.5,882.7 V889.2" fill="#fff" stroke="#666666" stroke-width="1.5"/>
<path d="M646.7,889.2 V887.2 Q646.7,885.7 648.2,885.7 H667.7 Q669.2,885.7 669.2,887.2 V889.2" fill="none" stroke="#666666" stroke-width="1.2"/>
<path d="M629.7,861.4000000000001 h3 M631.2,859.9000000000001 v3" stroke="#666666" stroke-width="1"/>
<path d="M664.8000000000001,865.5 V845.2 H690.5000000000001 L697.5000000000001,852.2 V865.5" fill="#fff" stroke="#666666" stroke-width="1.8" stroke-linejoin="round"/>
<path d="M690.5000000000001,845.2 V852.2 H697.5000000000001" fill="#fff" stroke="#9b9794" stroke-width="1.2"/>
<path d="M648.7,897.0 V867.5 Q648.7,864.5 651.7,864.5 H710.7 Q713.7,864.5 713.7,867.5 V897.0 Z" fill="#fff" stroke="#666666" stroke-width="1.8" stroke-linejoin="round"/>
<path d="M649.7,876.5 H712.7" stroke="#666666" stroke-width="1.5"/>
<path d="M649.7,891.8 H712.7" stroke="#b5b1ae" stroke-width="1.1"/>
<path d="M666.2,897.0 V890.5 Q666.2,887.5 669.2,887.5 H694.0 Q697.0,887.5 697.0,890.5 V897.0" fill="#fff" stroke="#666666" stroke-width="1.5"/>
<path d="M670.2,897.0 V895.0 Q670.2,893.5 671.7,893.5 H691.2 Q692.7,893.5 692.7,895.0 V897.0" fill="none" stroke="#666666" stroke-width="1.2"/>
<path d="M653.2,869.2 h3 M654.7,867.7 v3" stroke="#666666" stroke-width="1"/>
<rect x="789.1" y="844.2" width="46.8" height="42.3" rx="3.5" fill="#fff" stroke="#666666" stroke-width="1.9"/>
<rect x="794.4" y="837.1" width="13.8" height="42" rx="3.3" fill="#fff" stroke="#666666" stroke-width="1.7"/>
<rect x="803" y="850" width="46.8" height="42.3" rx="3.5" fill="#fff" stroke="#666666" stroke-width="1.9"/>
<rect x="808.3" y="842.9" width="13.8" height="42" rx="3.3" fill="#fff" stroke="#666666" stroke-width="1.7"/>
<rect x="816.8" y="855.6" width="46.8" height="42.3" rx="3.5" fill="#fff" stroke="#666666" stroke-width="1.9"/>
<rect x="822.0999999999999" y="848.5" width="13.8" height="42" rx="3.3" fill="#fff" stroke="#666666" stroke-width="1.7"/>
<rect x="839.3" y="862.4" width="18.3" height="9.4" fill="#fff" stroke="#666666" stroke-width="1.4"/>
<rect x="839.3999999999999" y="876.9" width="3.4" height="3.4" fill="none" stroke="#666666" stroke-width="1.2"/>
<rect x="839.3999999999999" y="882.3" width="3.4" height="3.4" fill="none" stroke="#666666" stroke-width="1.2"/>
<rect x="839.3999999999999" y="887.6999999999999" width="3.4" height="3.4" fill="none" stroke="#666666" stroke-width="1.2"/>
<rect x="846.3999999999999" y="876.9" width="3.4" height="3.4" fill="none" stroke="#666666" stroke-width="1.2"/>
<rect x="846.3999999999999" y="882.3" width="3.4" height="3.4" fill="none" stroke="#666666" stroke-width="1.2"/>
<rect x="846.3999999999999" y="887.6999999999999" width="3.4" height="3.4" fill="none" stroke="#666666" stroke-width="1.2"/>
<rect x="853.0999999999999" y="876.9" width="3.4" height="3.4" fill="none" stroke="#666666" stroke-width="1.2"/>
<rect x="853.0999999999999" y="882.3" width="3.4" height="3.4" fill="none" stroke="#666666" stroke-width="1.2"/>
<rect x="853.0999999999999" y="887.6999999999999" width="3.4" height="3.4" fill="none" stroke="#666666" stroke-width="1.2"/>
</svg></body></html>
